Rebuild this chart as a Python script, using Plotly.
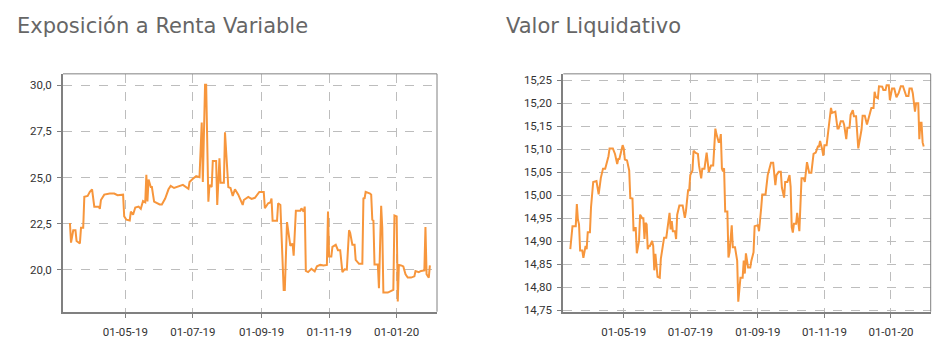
import plotly.graph_objects as go

# ---------------- data ----------------
exp_dates = [
    "2019-03-12", "2019-03-13", "2019-03-15", "2019-03-17", "2019-03-18", "2019-03-21",
    "2019-03-22", "2019-03-24", "2019-03-25", "2019-03-28", "2019-03-30", "2019-04-01",
    "2019-04-03", "2019-04-07", "2019-04-08", "2019-04-09", "2019-04-12", "2019-04-17",
    "2019-04-21", "2019-04-24", "2019-04-29", "2019-04-30", "2019-05-02", "2019-05-05",
    "2019-05-06", "2019-05-08", "2019-05-10", "2019-05-13", "2019-05-15", "2019-05-17",
    "2019-05-19", "2019-05-20", "2019-05-21", "2019-05-22", "2019-05-24", "2019-05-25",
    "2019-05-27", "2019-05-30", "2019-06-01", "2019-06-03", "2019-06-06", "2019-06-09",
    "2019-06-11", "2019-06-14", "2019-06-16", "2019-06-22", "2019-06-27", "2019-06-28",
    "2019-07-01", "2019-07-04", "2019-07-07", "2019-07-09", "2019-07-10", "2019-07-12",
    "2019-07-13", "2019-07-15", "2019-07-16", "2019-07-18", "2019-07-19", "2019-07-22",
    "2019-07-23", "2019-07-25", "2019-07-26", "2019-07-29", "2019-07-30", "2019-08-02",
    "2019-08-04", "2019-08-06", "2019-08-08", "2019-08-11", "2019-08-15", "2019-08-16",
    "2019-08-20", "2019-08-23", "2019-08-26", "2019-08-30", "2019-09-03", "2019-09-04",
    "2019-09-07", "2019-09-09", "2019-09-10", "2019-09-11", "2019-09-15", "2019-09-16",
    "2019-09-18", "2019-09-21", "2019-09-22", "2019-09-24", "2019-09-27", "2019-09-29",
    "2019-09-30", "2019-10-02", "2019-10-06", "2019-10-07", "2019-10-09", "2019-10-10",
    "2019-10-11", "2019-10-13", "2019-10-16", "2019-10-19", "2019-10-21", "2019-10-24",
    "2019-10-27", "2019-10-30", "2019-10-31", "2019-11-01", "2019-11-03", "2019-11-04",
    "2019-11-07", "2019-11-09", "2019-11-11", "2019-11-13", "2019-11-15", "2019-11-17",
    "2019-11-19", "2019-11-20", "2019-11-22", "2019-11-24", "2019-11-25", "2019-11-26",
    "2019-11-28", "2019-12-01", "2019-12-02", "2019-12-03", "2019-12-04", "2019-12-08",
    "2019-12-09", "2019-12-10", "2019-12-11", "2019-12-12", "2019-12-15", "2019-12-16",
    "2019-12-18", "2019-12-19", "2019-12-20", "2019-12-24", "2019-12-28", "2019-12-29",
    "2019-12-30", "2020-01-01", "2020-01-02", "2020-01-03", "2020-01-05", "2020-01-07",
    "2020-01-09", "2020-01-11", "2020-01-14", "2020-01-17", "2020-01-18", "2020-01-21",
    "2020-01-23", "2020-01-26", "2020-01-27", "2020-01-28", "2020-01-30", "2020-01-31",
]
exp_values = [
    22.53, 21.47, 22.14, 22.14, 21.56, 21.42,
    22.27, 22.27, 23.95, 24.00, 24.22, 24.36,
    23.42, 23.42, 23.30, 23.78, 24.07, 24.13,
    24.13, 24.04, 24.07, 22.89, 22.71, 22.67,
    23.15, 22.98, 23.37, 23.42, 23.30, 23.72,
    23.65, 25.14, 23.70, 24.89, 24.48, 24.48,
    23.69, 23.60, 23.54, 23.54, 23.86, 24.36,
    24.54, 24.43, 24.48, 24.60, 24.39, 24.75,
    24.93, 25.07, 25.02, 27.98, 24.75, 30.03,
    30.03, 23.69, 24.60, 24.48, 25.90, 25.90,
    23.51, 26.04, 24.71, 24.71, 27.45, 24.48,
    24.43, 24.00, 24.36, 24.07, 23.51, 23.78,
    23.95, 23.84, 23.90, 24.22, 24.22, 23.33,
    23.60, 23.65, 23.86, 22.66, 22.66, 23.60,
    23.51, 18.90, 18.90, 22.58, 21.29, 21.42,
    20.76, 23.19, 23.19, 23.33, 23.15, 23.42,
    19.93, 19.87, 20.05, 19.91, 20.18, 20.26,
    20.23, 20.26, 23.15, 20.71, 20.71, 21.24,
    21.35, 21.06, 21.06, 19.87, 20.02, 20.00,
    22.14, 22.00, 21.35, 21.35, 20.53, 20.46,
    20.32, 20.32, 23.90, 23.84, 24.22, 24.13,
    24.07, 22.71, 22.67, 20.28, 20.28, 18.99,
    23.47, 22.27, 18.76, 18.76, 18.90, 18.90,
    22.94, 22.89, 18.28, 20.26, 20.23, 20.18,
    19.75, 19.57, 19.57, 19.64, 19.93, 19.87,
    19.93, 19.96, 22.32, 19.75, 19.57, 20.23,
]

vl_dates = [
    "2019-03-13", "2019-03-15", "2019-03-18", "2019-03-19", "2019-03-20", "2019-03-21",
    "2019-03-22", "2019-03-24", "2019-03-25", "2019-03-27", "2019-03-28", "2019-03-29",
    "2019-03-31", "2019-04-01", "2019-04-03", "2019-04-06", "2019-04-08", "2019-04-10",
    "2019-04-12", "2019-04-14", "2019-04-17", "2019-04-18", "2019-04-21", "2019-04-23",
    "2019-04-25", "2019-04-26", "2019-04-27", "2019-04-30", "2019-05-01", "2019-05-02",
    "2019-05-04", "2019-05-06", "2019-05-07", "2019-05-09", "2019-05-10", "2019-05-11",
    "2019-05-12", "2019-05-13", "2019-05-15", "2019-05-16", "2019-05-18", "2019-05-19",
    "2019-05-20", "2019-05-21", "2019-05-22", "2019-05-23", "2019-05-24", "2019-05-25",
    "2019-05-27", "2019-05-28", "2019-05-29", "2019-05-30", "2019-06-01", "2019-06-03",
    "2019-06-04", "2019-06-05", "2019-06-07", "2019-06-09", "2019-06-11", "2019-06-12",
    "2019-06-13", "2019-06-14", "2019-06-15", "2019-06-17", "2019-06-18", "2019-06-19",
    "2019-06-21", "2019-06-24", "2019-06-26", "2019-06-27", "2019-06-29", "2019-06-30",
    "2019-07-01", "2019-07-03", "2019-07-04", "2019-07-06", "2019-07-08", "2019-07-09",
    "2019-07-11", "2019-07-12", "2019-07-14", "2019-07-16", "2019-07-18", "2019-07-20",
    "2019-07-22", "2019-07-24", "2019-07-25", "2019-07-27", "2019-07-28", "2019-07-29",
    "2019-07-30", "2019-07-31", "2019-08-01", "2019-08-02", "2019-08-04", "2019-08-05",
    "2019-08-06", "2019-08-08", "2019-08-09", "2019-08-11", "2019-08-13", "2019-08-14",
    "2019-08-16", "2019-08-18", "2019-08-19", "2019-08-20", "2019-08-21", "2019-08-23",
    "2019-08-25", "2019-08-26", "2019-08-28", "2019-08-29", "2019-09-01", "2019-09-02",
    "2019-09-04", "2019-09-05", "2019-09-07", "2019-09-08", "2019-09-10", "2019-09-11",
    "2019-09-13", "2019-09-15", "2019-09-17", "2019-09-18", "2019-09-20", "2019-09-22",
    "2019-09-23", "2019-09-25", "2019-09-26", "2019-09-28", "2019-09-30", "2019-10-01",
    "2019-10-02", "2019-10-03", "2019-10-04", "2019-10-06", "2019-10-07", "2019-10-09",
    "2019-10-10", "2019-10-11", "2019-10-13", "2019-10-14", "2019-10-16", "2019-10-18",
    "2019-10-20", "2019-10-22", "2019-10-24", "2019-10-26", "2019-10-27", "2019-10-28",
    "2019-10-30", "2019-10-31", "2019-11-01", "2019-11-03", "2019-11-05", "2019-11-07",
    "2019-11-08", "2019-11-11", "2019-11-13", "2019-11-14", "2019-11-16", "2019-11-18",
    "2019-11-19", "2019-11-21", "2019-11-22", "2019-11-24", "2019-11-25", "2019-11-27",
    "2019-11-28", "2019-11-30", "2019-12-02", "2019-12-04", "2019-12-05", "2019-12-06",
    "2019-12-08", "2019-12-10", "2019-12-12", "2019-12-14", "2019-12-16", "2019-12-17",
    "2019-12-18", "2019-12-20", "2019-12-21", "2019-12-24", "2019-12-25", "2019-12-27",
    "2019-12-28", "2019-12-30", "2019-12-31", "2020-01-02", "2020-01-04", "2020-01-06",
    "2020-01-08", "2020-01-10", "2020-01-12", "2020-01-14", "2020-01-15", "2020-01-17",
    "2020-01-18", "2020-01-20", "2020-01-21", "2020-01-23", "2020-01-24", "2020-01-26",
    "2020-01-27", "2020-01-28", "2020-01-29", "2020-01-30", "2020-01-31",
]
vl_values = [
    14.883, 14.933, 14.933, 14.981, 14.947, 14.937,
    14.880, 14.880, 14.864, 14.890, 14.883, 14.920,
    14.920, 14.974, 15.029, 15.031, 15.002, 15.038,
    15.058, 15.058, 15.085, 15.102, 15.102, 15.090,
    15.068, 15.079, 15.079, 15.109, 15.102, 15.078,
    15.076, 15.054, 14.994, 14.993, 14.922, 14.929,
    14.929, 14.874, 14.901, 14.958, 14.950, 14.950,
    14.905, 14.940, 14.937, 14.883, 14.890, 14.890,
    14.901, 14.890, 14.837, 14.873, 14.823, 14.821,
    14.862, 14.876, 14.908, 14.908, 14.940, 14.962,
    14.926, 14.944, 14.922, 14.922, 14.905, 14.958,
    14.978, 14.978, 14.951, 14.965, 15.011, 15.011,
    15.044, 15.054, 15.097, 15.092, 15.090, 15.065,
    15.037, 15.058, 15.058, 15.093, 15.051, 15.065,
    15.065, 15.145, 15.133, 15.116, 15.116, 15.133,
    15.058, 15.052, 15.059, 14.965, 14.965, 14.865,
    14.876, 14.935, 14.887, 14.887, 14.858, 14.769,
    14.821, 14.821, 14.858, 14.830, 14.874, 14.843,
    14.843, 14.858, 14.876, 14.933, 14.935, 14.922,
    14.972, 15.002, 15.002, 15.002, 15.044, 15.052,
    15.071, 15.071, 15.022, 15.044, 15.051, 15.051,
    15.017, 14.995, 15.029, 15.029, 15.044, 15.019,
    14.931, 14.919, 14.938, 14.938, 14.962, 14.922,
    14.971, 15.037, 15.037, 15.029, 15.072, 15.049,
    15.049, 15.090, 15.093, 15.106, 15.106, 15.118,
    15.099, 15.086, 15.109, 15.109, 15.150, 15.190,
    15.179, 15.182, 15.145, 15.145, 15.161, 15.161,
    15.154, 15.122, 15.147, 15.147, 15.175, 15.185,
    15.172, 15.172, 15.102, 15.133, 15.143, 15.173,
    15.173, 15.154, 15.172, 15.190, 15.190, 15.225,
    15.214, 15.211, 15.237, 15.236, 15.229, 15.229,
    15.239, 15.239, 15.207, 15.232, 15.232, 15.213,
    15.222, 15.237, 15.237, 15.220, 15.216, 15.216,
    15.232, 15.232, 15.222, 15.182, 15.200, 15.200,
    15.122, 15.158, 15.158, 15.115, 15.106,
]

titles = ["Exposición a Renta Variable", "Valor Liquidativo"]
x_tickvals = ["2019-05-01", "2019-07-01", "2019-09-01", "2019-11-01", "2020-01-01"]
x_ticktext = ["01-05-19", "01-07-19", "01-09-19", "01-11-19", "01-01-20"]

# ---------------- figure ----------------
# the page body adds an 8px margin, so the figure is laid out 8px smaller
OFF = 8
W, H = 948 - OFF, 360 - OFF
LINE = "#F7963C"
GRID = "#BDBDBD"
AXIS = "#808080"
TICKFONT = dict(family="Roboto, DejaVu Sans, sans-serif", size=11.5, color="#333333")


def px_x(v):
    return (v - OFF) / W


def px_y(v):
    return 1 - (v - OFF) / H


fig = go.Figure()
fig.add_trace(go.Scatter(x=exp_dates, y=exp_values, mode="lines",
                         line=dict(color=LINE, width=2), xaxis="x", yaxis="y",
                         hoverinfo="skip"))
fig.add_trace(go.Scatter(x=vl_dates, y=vl_values, mode="lines",
                         line=dict(color=LINE, width=2), xaxis="x2", yaxis="y2",
                         hoverinfo="skip"))

ydom = [px_y(317), px_y(75)]
dom1 = [px_x(63), px_x(437)]
dom2 = [px_x(563.3), px_x(930.7)]

common_x = dict(
    type="date", tickmode="array", tickvals=x_tickvals, ticktext=x_ticktext,
    showgrid=True, gridcolor=GRID, griddash="dash", gridwidth=1,
    showline=True, linecolor=AXIS, linewidth=2, ticks="outside", ticklen=4,
    tickcolor=AXIS, tickfont=TICKFONT, zeroline=False, ticklabelstandoff=4,
)
common_y = dict(
    showgrid=True, gridcolor=GRID, griddash="dash", gridwidth=1,
    showline=True, linecolor=AXIS, linewidth=2, ticks="outside", ticklen=4,
    tickcolor=AXIS, tickfont=TICKFONT, zeroline=False, ticklabelstandoff=3,
)

fig.update_layout(
    width=W, height=H,
    margin=dict(l=0, r=0, t=0, b=0),
    paper_bgcolor="white", plot_bgcolor="white",
    showlegend=False,
    separators=",.",
    xaxis=dict(domain=dom1, anchor="y",
               range=["2019-03-05 18:00", "2020-02-06 10:00"], **common_x),
    yaxis=dict(domain=ydom, anchor="x", range=[17.72, 30.62],
               tick0=20, dtick=2.5, tickformat=".1f", **common_y),
    xaxis2=dict(domain=dom2, anchor="y2",
                range=["2019-03-06 14:00", "2020-02-06 10:00"], **common_x),
    yaxis2=dict(domain=ydom, anchor="x2", range=[14.747, 15.264],
                tick0=14.75, dtick=0.05, tickformat=".2f", **common_y),
)

# thin top/right frame lines
for xref, yref in (("x domain", "y domain"), ("x2 domain", "y2 domain")):
    fig.add_shape(type="line", xref=xref, yref=yref, x0=0, x1=1, y0=1, y1=1,
                  line=dict(color=AXIS, width=1))
    fig.add_shape(type="line", xref=xref, yref=yref, x0=1, x1=1, y0=0, y1=1,
                  line=dict(color=AXIS, width=1))

TITLEFONT = dict(family="DejaVu Sans, sans-serif", size=21, color="#666666")
fig.add_annotation(text=titles[0], xref="paper", yref="paper",
                   x=px_x(15), y=px_y(26), xanchor="left", yanchor="middle",
                   showarrow=False, font=TITLEFONT)
fig.add_annotation(text=titles[1], xref="paper", yref="paper",
                   x=px_x(504), y=px_y(26), xanchor="left", yanchor="middle",
                   showarrow=False, font=TITLEFONT)

fig.write_html("out.html")
